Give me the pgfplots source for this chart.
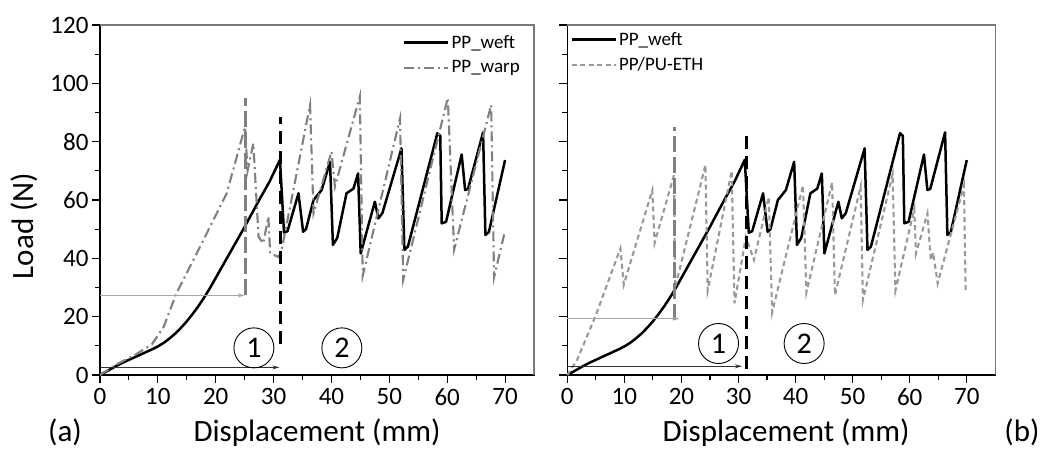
\documentclass[border=0pt]{standalone}
\usepackage{fontspec}
\setmainfont{Carlito}
\usepackage{pgfplots}
\usepackage{pgfplotstable}
\pgfplotsset{compat=1.18}
\usetikzlibrary{arrows.meta}

\definecolor{warp}{HTML}{808080}
\definecolor{eth}{HTML}{999999}
\definecolor{frame}{HTML}{7A7A7A}

\tikzset{circ/.style={draw, circle, minimum size=40pt, inner sep=0pt, line width=0.9pt, font=\fontsize{30}{30}\selectfont}}

\pgfplotstableread{
x y
0 0
1 1.1
2 2.2
3 3.3
4 4.3
5 5.2
6 6.1
7 7.0
8 7.9
9 8.8
10 9.8
11 11.0
12 12.5
13 14.2
14 16.2
15 18.4
16 20.9
17 23.6
18 26.6
19 29.8
20 33.3
21 36.8
22 40.3
23 43.8
24 47.3
25 50.8
26 54.5
27.65 60.5
29.3 66.3
31.1 73.8
31.8 48.8
32.4 49.3
34.3 62.3
35.1 49.1
35.6 50
36.9 60
38.3 63.4
39.75 73.1
40.25 44.6
41 47
42.6 62.3
43.8 63.9
44.6 69.1
45.05 41.7
47.5 59.4
48.1 53.7
48.8 55.5
52.1 77.7
52.6 42.9
53.2 44
58.3 82.9
58.8 82
59.05 52
59.8 52.5
62.5 75.6
63.1 63.4
63.6 63.8
66.2 83.2
66.6 48
67.2 49
70 73.7
}\weft

\pgfplotstableread{
x y
0 0
3 3.8
6 6.8
9 10.6
11 16.5
13.2 28
17.3 44
21.9 62.3
25.06 85.1
25.5 70
26.5 79.4
27.4 47.4
28.2 45.1
29.1 54.3
29.4 41.7
30.8 40.5
31.3 42
36.3 92.6
36.9 55.4
40.0 76.6
40.6 64.6
44.9 95.5
45.4 34
51.85 88
52.4 32.6
60.1 95
61.2 43
67.6 92.6
68.1 33.5
70 49.5
}\warp

\pgfplotstableread{
x y
0 0
1.7 5.1
4.9 20
9.3 43.4
9.9 31
14.9 63.4
15.3 45.3
18.7 68.6
18.9 30
24.2 72
24.6 29
28.8 70
29.3 24.6
31.3 47.4
32.7 39.4
35.3 61
35.9 21.5
41.3 65
41.9 28.3
46.4 66
46.9 27.4
51.4 64.6
51.8 25.7
57 68.8
57.5 29
60.8 57
61.1 41.7
63.1 55.4
63.7 39.4
64.1 42
64.9 31.4
69.5 65
69.8 29
}\eth

\pgfplotsset{
  panel/.style={
    scale only axis,
    height=350pt,
    xmin=0, xmax=75, ymin=0, ymax=120,
    xtick={0,10,...,70}, ytick={0,20,...,120},
    minor x tick num=1, minor y tick num=1,
    tick pos=left,
    tick align=outside,
    major tick length=8pt, minor tick length=5pt,
    every tick/.style={black, line width=1.1pt},
    axis line style={line width=1.3pt},
    tick label style={font=\fontsize{25}{25}\selectfont},
    /pgf/number format/assume math mode=true,
    xticklabel style={yshift=-2pt},
    clip=false,
    legend cell align=left,
    legend image code/.code={\draw[##1] (0pt,0pt) -- (44pt,0pt);},
  },
  weftstyle/.style={black, line width=2.5pt, line join=round},
  warpstyle/.style={warp, line width=2.1pt, dash pattern=on 10pt off 4pt on 2pt off 4pt},
  ethstyle/.style={eth, line width=2.1pt, dash pattern=on 5pt off 3.5pt},
}

\begin{document}
\begin{tikzpicture}
\useasboundingbox (0,0) rectangle (1048pt,450pt);

% ---------------- panel (a)
\begin{axis}[panel, width=434pt, at={(100pt,75pt)}, anchor=south west,
  legend style={draw=none, fill=none, font=\fontsize{19}{19}\selectfont,
    at={(1,1)}, anchor=north east, xshift=-9pt, yshift=-6pt, row sep=7pt}]
\addplot[weftstyle] table {\weft};
\addlegendentry{PP\_weft}
\addplot[warpstyle] table {\warp};
\addlegendentry{PP\_warp}
\addplot[forget plot, warp, line width=3pt, dash pattern=on 16pt off 5pt] coordinates {(25.1,27.3) (25.1,95)};
\addplot[forget plot, black, line width=3.5pt, dash pattern=on 13pt off 7pt] coordinates {(31.2,10.5) (31.2,88.6)};
\addplot[forget plot, gray!70, line width=0.9pt, -{Stealth[length=7pt,width=4pt]}] coordinates {(0,27.3) (25,27.3)};
\addplot[forget plot, black!80, line width=0.9pt, -{Stealth[length=7pt,width=4pt]}] coordinates {(0,2.6) (31,2.6)};
\node[circ] at (axis cs:26.6,9.3) {1};
\node[circ] at (axis cs:41.8,9.3) {2};
\draw[frame, line width=1.4pt] (rel axis cs:0,1) -- (rel axis cs:1,1) -- (rel axis cs:1,0);
\end{axis}

% ---------------- panel (b)
\begin{axis}[panel, width=428pt, at={(567.3pt,75pt)}, anchor=south west,
  yticklabels={},
  legend style={draw=none, fill=none, font=\fontsize{19}{19}\selectfont,
    at={(0,1)}, anchor=north west, xshift=0pt, yshift=-3pt, row sep=7pt}]
\addplot[weftstyle] table {\weft};
\addlegendentry{PP\_weft}
\addplot[ethstyle] table {\eth};
\addlegendentry{PP/PU-ETH}
\addplot[forget plot, warp, line width=3pt, dash pattern=on 16pt off 5pt] coordinates {(18.8,19) (18.8,85)};
\addplot[forget plot, black, line width=3.5pt, dash pattern=on 13pt off 7pt] coordinates {(31.4,2) (31.4,83)};
\addplot[forget plot, gray!70, line width=0.9pt, -{Stealth[length=6pt,width=4pt]}] coordinates {(0,19.3) (19.6,19.3)};
\addplot[forget plot, black!80, line width=0.9pt, -{Stealth[length=7pt,width=4pt]}] coordinates {(0,3) (30.6,3)};
\node[circ] at (axis cs:26.5,10.8) {1};
\node[circ] at (axis cs:41.5,10.8) {2};
\draw[frame, line width=1.4pt] (rel axis cs:0,1) -- (rel axis cs:1,1) -- (rel axis cs:1,0);
\end{axis}

% ---------------- labels
\node[rotate=90, anchor=base, font=\fontsize{31}{31}\selectfont] at (33pt,224pt) {Load (N)};
\node[anchor=base, font=\fontsize{31}{31}\selectfont] at (317pt,9pt) {Displacement (mm)};
\node[anchor=base, font=\fontsize{31}{31}\selectfont] at (786pt,9pt) {Displacement (mm)};
\node[anchor=base, font=\fontsize{31}{31}\selectfont] at (65pt,9pt) {(a)};
\node[anchor=base, font=\fontsize{31}{31}\selectfont] at (1022pt,9pt) {(b)};
\end{tikzpicture}
\end{document}
